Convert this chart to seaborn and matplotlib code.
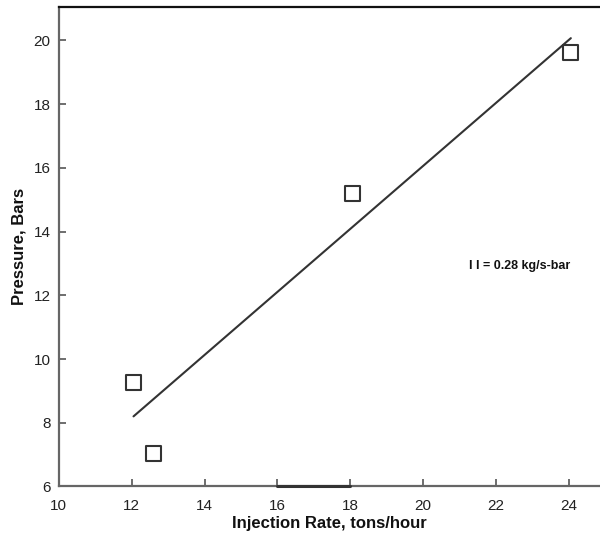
import matplotlib
matplotlib.use("Agg")
import matplotlib.pyplot as plt
import seaborn as sns
import pandas as pd

# Data
rate = [12.05, 12.6, 18.07, 24.03]
pressure = [9.25, 7.04, 15.2, 19.62]
fit_x = [12.05, 24.05]
fit_y = [8.2, 20.07]
seg_x = [16, 18]
seg_y = [6.0, 6.0]
xticks = [10, 12, 14, 16, 18, 20, 22, 24]
yticks = [6, 8, 10, 12, 14, 16, 18, 20]

sns.set_style("white")
plt.rcParams['font.family'] = ['Liberation Sans', 'DejaVu Sans']
plt.rcParams['xtick.direction'] = 'in'
plt.rcParams['ytick.direction'] = 'in'

fig = plt.figure(figsize=(6.0, 5.34), dpi=100)
ax = fig.add_axes([0.098, 0.089, 0.902, 0.898])

pts = pd.DataFrame({"x": rate, "y": pressure})
fit = pd.DataFrame({"x": fit_x, "y": fit_y})
seg = pd.DataFrame({"x": seg_x, "y": seg_y})

sns.lineplot(data=fit, x="x", y="y", ax=ax, color="#333333", lw=1.5, sort=False)
sns.lineplot(data=seg, x="x", y="y", ax=ax, color="#333333", lw=2.2, sort=False,
             clip_on=False, zorder=6)
sns.scatterplot(data=pts, x="x", y="y", ax=ax, marker="s", s=115,
                facecolor="none", edgecolor="#333333", linewidth=1.5, zorder=5)

ax.set_xlim(10, 24.85)
ax.set_ylim(6, 21.05)
ax.set_xticks(xticks)
ax.set_yticks(yticks)
ax.tick_params(direction="in", length=5, width=1.2, color="#555555",
               labelsize=11, labelcolor="#222222",
               bottom=True, left=True, top=False, right=False)
ax.tick_params(axis="x", pad=9)
ax.tick_params(axis="y", pad=6)

for side in ["left", "bottom"]:
    ax.spines[side].set_color("#666666")
    ax.spines[side].set_linewidth(1.6)
ax.spines["top"].set_color("#111111")
ax.spines["top"].set_linewidth(1.6)
ax.spines["right"].set_visible(False)

ax.set_xlabel("Injection Rate, tons/hour", fontsize=12, fontweight="bold",
              color="#111111", labelpad=2)
ax.set_ylabel("Pressure, Bars", fontsize=12, fontweight="bold",
              color="#111111", labelpad=5)

ax.text(21.25, 12.92, "I I = 0.28 kg/s-bar", fontsize=9, fontweight="bold",
        ha="left", va="center", color="#111111")

fig.savefig("out.png", dpi=100)
